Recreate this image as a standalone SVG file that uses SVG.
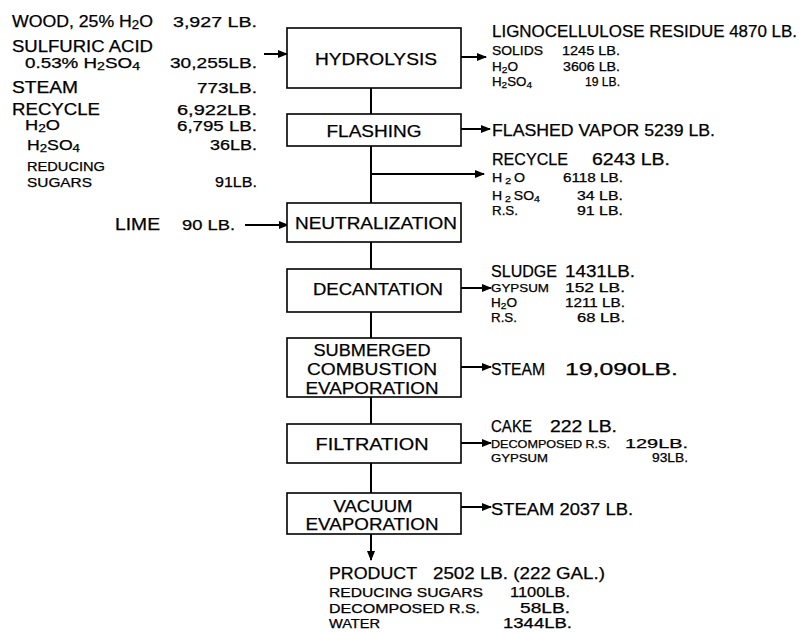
<svg xmlns="http://www.w3.org/2000/svg" width="800" height="633" viewBox="0 0 800 633">
<defs>
<marker id="ah" viewBox="0 0 10 8" refX="9" refY="4" markerWidth="10" markerHeight="8" markerUnits="userSpaceOnUse" orient="auto">
<path d="M0,0 L10,4 L0,8 z" fill="#000"/>
</marker>
</defs>
<style>
text{font-family:"Liberation Sans","DejaVu Sans",Arial,sans-serif;fill:#000;stroke:#000;stroke-width:0.25}
.box{fill:#fff;stroke:#000;stroke-width:1.6}
.lbl{font-size:17px;text-anchor:middle}
.big{font-size:16px}
.num{font-size:15px}
.med{font-size:14px}
.sm{font-size:12px}
.xs{font-size:11px}
.ln{fill:none;stroke:#000;stroke-width:2}
.arr{fill:none;stroke:#000;stroke-width:2;marker-end:url(#ah)}
.sub{font-size:75%}
</style>
<rect width="800" height="633" fill="#fff"/>

<g id="connectors">
<path class="ln" d="M371,88 V114 M371,146 V203 M371,242 V269 M371,312 V338 M371,397 V424 M371,463 V493"/>
<path class="arr" d="M371,534 V560"/>
<path class="arr" d="M371,174 H484"/>
<path class="arr" d="M264,54 H287"/>
<path class="arr" d="M461,57 H486"/>
<path class="arr" d="M461,129 H490"/>
<path class="arr" d="M245,225 H288"/>
<path class="arr" d="M461,288 H491"/>
<path class="arr" d="M461,367 H491"/>
<path class="arr" d="M461,443 H491"/>
<path class="arr" d="M461,507 H491"/>
</g>

<g id="hydrolysis"><rect class="box" x="287" y="28" width="174" height="60"/><text class="lbl" x="376" y="65" textLength="122" lengthAdjust="spacingAndGlyphs">HYDROLYSIS</text></g>
<g id="flashing"><rect class="box" x="287" y="114" width="174" height="32"/><text class="lbl" x="374" y="137" textLength="95" lengthAdjust="spacingAndGlyphs">FLASHING</text></g>
<g id="neutralization"><rect class="box" x="287" y="203" width="174" height="39"/><text class="lbl" x="376" y="229" font-size="19" textLength="162" lengthAdjust="spacingAndGlyphs">NEUTRALIZATION</text></g>
<g id="decantation"><rect class="box" x="287" y="269" width="174" height="43"/><text class="lbl" x="378" y="295" textLength="130" lengthAdjust="spacingAndGlyphs">DECANTATION</text></g>
<g id="submerged"><rect class="box" x="287" y="338" width="174" height="59"/>
<text class="lbl" x="372" y="356" textLength="117" lengthAdjust="spacingAndGlyphs">SUBMERGED</text>
<text class="lbl" x="372" y="375" textLength="130" lengthAdjust="spacingAndGlyphs">COMBUSTION</text>
<text class="lbl" x="372" y="394" textLength="133" lengthAdjust="spacingAndGlyphs">EVAPORATION</text></g>
<g id="filtration"><rect class="box" x="287" y="424" width="174" height="39"/><text class="lbl" x="372" y="450" textLength="113" lengthAdjust="spacingAndGlyphs">FILTRATION</text></g>
<g id="vacuum"><rect class="box" x="287" y="493" width="174" height="41"/>
<text class="lbl" x="373" y="512" textLength="79" lengthAdjust="spacingAndGlyphs">VACUUM</text>
<text class="lbl" x="372" y="530" textLength="133" lengthAdjust="spacingAndGlyphs">EVAPORATION</text></g>

<g id="inputs">
<text class="big" x="12" y="27" textLength="141" lengthAdjust="spacingAndGlyphs">WOOD, 25% H<tspan class="sub" dy="2">2</tspan><tspan dy="-2">O</tspan></text>
<text class="num" x="173" y="27" textLength="84" lengthAdjust="spacingAndGlyphs">3,927 LB.</text>
<text class="big" x="12" y="52" textLength="141" lengthAdjust="spacingAndGlyphs">SULFURIC ACID</text>
<text class="med" x="25" y="68" textLength="115" lengthAdjust="spacingAndGlyphs">0.53% H<tspan class="sub" dy="2">2</tspan><tspan dy="-2">SO</tspan><tspan class="sub" dy="2">4</tspan></text>
<text class="num" x="170" y="68" textLength="87" lengthAdjust="spacingAndGlyphs">30,255LB.</text>
<text class="big" x="12" y="93" textLength="66" lengthAdjust="spacingAndGlyphs">STEAM</text>
<text class="num" x="197" y="93" textLength="60" lengthAdjust="spacingAndGlyphs">773LB.</text>
<text class="big" x="12" y="115" textLength="88" lengthAdjust="spacingAndGlyphs">RECYCLE</text>
<text class="med" x="177" y="115" textLength="80" lengthAdjust="spacingAndGlyphs">6,922LB.</text>
<text class="med" x="25" y="130" textLength="35" lengthAdjust="spacingAndGlyphs">H<tspan class="sub" dy="2">2</tspan><tspan dy="-2">O</tspan></text>
<text class="med" x="177" y="131" textLength="80" lengthAdjust="spacingAndGlyphs">6,795 LB.</text>
<text class="med" x="27" y="150" textLength="53" lengthAdjust="spacingAndGlyphs">H<tspan class="sub" dy="2">2</tspan><tspan dy="-2">SO</tspan><tspan class="sub" dy="2">4</tspan></text>
<text class="med" x="210" y="150" textLength="47" lengthAdjust="spacingAndGlyphs">36LB.</text>
<text class="sm" x="27" y="171" textLength="78" lengthAdjust="spacingAndGlyphs">REDUCING</text>
<text class="sm" x="27" y="187" textLength="65" lengthAdjust="spacingAndGlyphs">SUGARS</text>
<text class="med" x="215" y="187" textLength="42" lengthAdjust="spacingAndGlyphs">91LB.</text>
<text class="big" x="115" y="230" textLength="45" lengthAdjust="spacingAndGlyphs">LIME</text>
<text class="med" x="182" y="230" textLength="53" lengthAdjust="spacingAndGlyphs">90 LB.</text>
</g>

<g id="residue">
<text class="big" x="492" y="37" textLength="305" lengthAdjust="spacingAndGlyphs">LIGNOCELLULOSE RESIDUE 4870 LB.</text>
<text class="sm" x="492" y="55" textLength="51" lengthAdjust="spacingAndGlyphs">SOLIDS</text>
<text class="sm" x="562" y="55" textLength="58" lengthAdjust="spacingAndGlyphs">1245 LB.</text>
<text class="sm" x="492" y="71" textLength="26" lengthAdjust="spacingAndGlyphs">H<tspan class="sub" dy="2">2</tspan><tspan dy="-2">O</tspan></text>
<text class="sm" x="563" y="71" textLength="57" lengthAdjust="spacingAndGlyphs">3606 LB.</text>
<text class="sm" x="492" y="86" textLength="40" lengthAdjust="spacingAndGlyphs">H<tspan class="sub" dy="2">2</tspan><tspan dy="-2">SO</tspan><tspan class="sub" dy="2">4</tspan></text>
<text class="sm" x="585" y="86" textLength="35" lengthAdjust="spacingAndGlyphs">19 LB.</text>
</g>
<g id="flashed-vapor">
<text class="big" x="492" y="136" textLength="223" lengthAdjust="spacingAndGlyphs">FLASHED VAPOR 5239 LB.</text>
</g>
<g id="recycle-out">
<text class="big" x="492" y="165" textLength="76" lengthAdjust="spacingAndGlyphs">RECYCLE</text>
<text class="big" x="592" y="165" textLength="78" lengthAdjust="spacingAndGlyphs">6243 LB.</text>
<text class="sm" x="492" y="182" textLength="33" lengthAdjust="spacingAndGlyphs">H<tspan class="sub" dy="2"> 2 </tspan><tspan dy="-2">O</tspan></text>
<text class="sm" x="563" y="182" textLength="60" lengthAdjust="spacingAndGlyphs">6118 LB.</text>
<text class="sm" x="492" y="200" textLength="48" lengthAdjust="spacingAndGlyphs">H<tspan class="sub" dy="2"> 2 </tspan><tspan dy="-2">SO</tspan><tspan class="sub" dy="2">4</tspan></text>
<text class="sm" x="577" y="200" textLength="46" lengthAdjust="spacingAndGlyphs">34 LB.</text>
<text class="sm" x="492" y="215" textLength="26" lengthAdjust="spacingAndGlyphs">R.S.</text>
<text class="sm" x="577" y="215" textLength="46" lengthAdjust="spacingAndGlyphs">91 LB.</text>
</g>
<g id="sludge">
<text class="big" x="491" y="277" textLength="66" lengthAdjust="spacingAndGlyphs">SLUDGE</text>
<text class="big" x="565" y="277" textLength="70" lengthAdjust="spacingAndGlyphs">1431LB.</text>
<text class="xs" x="491" y="292" textLength="58" lengthAdjust="spacingAndGlyphs">GYPSUM</text>
<text class="sm" x="565" y="292" textLength="60" lengthAdjust="spacingAndGlyphs">152 LB.</text>
<text class="sm" x="491" y="307" textLength="26" lengthAdjust="spacingAndGlyphs">H<tspan class="sub" dy="2">2</tspan><tspan dy="-2">O</tspan></text>
<text class="sm" x="565" y="307" textLength="60" lengthAdjust="spacingAndGlyphs">1211 LB.</text>
<text class="sm" x="491" y="322" textLength="26" lengthAdjust="spacingAndGlyphs">R.S.</text>
<text class="sm" x="577" y="322" textLength="48" lengthAdjust="spacingAndGlyphs">68 LB.</text>
</g>
<g id="steam-1">
<text class="big" x="491" y="375" textLength="54" lengthAdjust="spacingAndGlyphs">STEAM</text>
<text class="big" x="565" y="375" textLength="113" lengthAdjust="spacingAndGlyphs">19,090LB.</text>
</g>
<g id="cake">
<text class="big" x="491" y="432" textLength="41" lengthAdjust="spacingAndGlyphs">CAKE</text>
<text class="big" x="550" y="432" textLength="67" lengthAdjust="spacingAndGlyphs">222 LB.</text>
<text class="xs" x="491" y="448" textLength="119" lengthAdjust="spacingAndGlyphs">DECOMPOSED R.S.</text>
<text class="sm" x="625" y="448" textLength="63" lengthAdjust="spacingAndGlyphs">129LB.</text>
<text class="xs" x="491" y="462" textLength="57" lengthAdjust="spacingAndGlyphs">GYPSUM</text>
<text class="sm" x="652" y="462" textLength="36" lengthAdjust="spacingAndGlyphs">93LB.</text>
</g>
<g id="steam-2">
<text class="big" x="491" y="515" textLength="142" lengthAdjust="spacingAndGlyphs">STEAM 2037 LB.</text>
</g>
<g id="product">
<text class="big" x="329" y="579" textLength="88" lengthAdjust="spacingAndGlyphs">PRODUCT</text>
<text class="big" x="433" y="579" textLength="172" lengthAdjust="spacingAndGlyphs">2502 LB. (222 GAL.)</text>
<text class="sm" x="329" y="597" textLength="154" lengthAdjust="spacingAndGlyphs">REDUCING SUGARS</text>
<text class="med" x="510" y="597" textLength="60" lengthAdjust="spacingAndGlyphs">1100LB.</text>
<text class="sm" x="329" y="613" textLength="151" lengthAdjust="spacingAndGlyphs">DECOMPOSED R.S.</text>
<text class="med" x="520" y="613" textLength="50" lengthAdjust="spacingAndGlyphs">58LB.</text>
<text class="sm" x="329" y="628" textLength="51" lengthAdjust="spacingAndGlyphs">WATER</text>
<text class="med" x="503" y="628" textLength="69" lengthAdjust="spacingAndGlyphs">1344LB.</text>
</g>
</svg>
